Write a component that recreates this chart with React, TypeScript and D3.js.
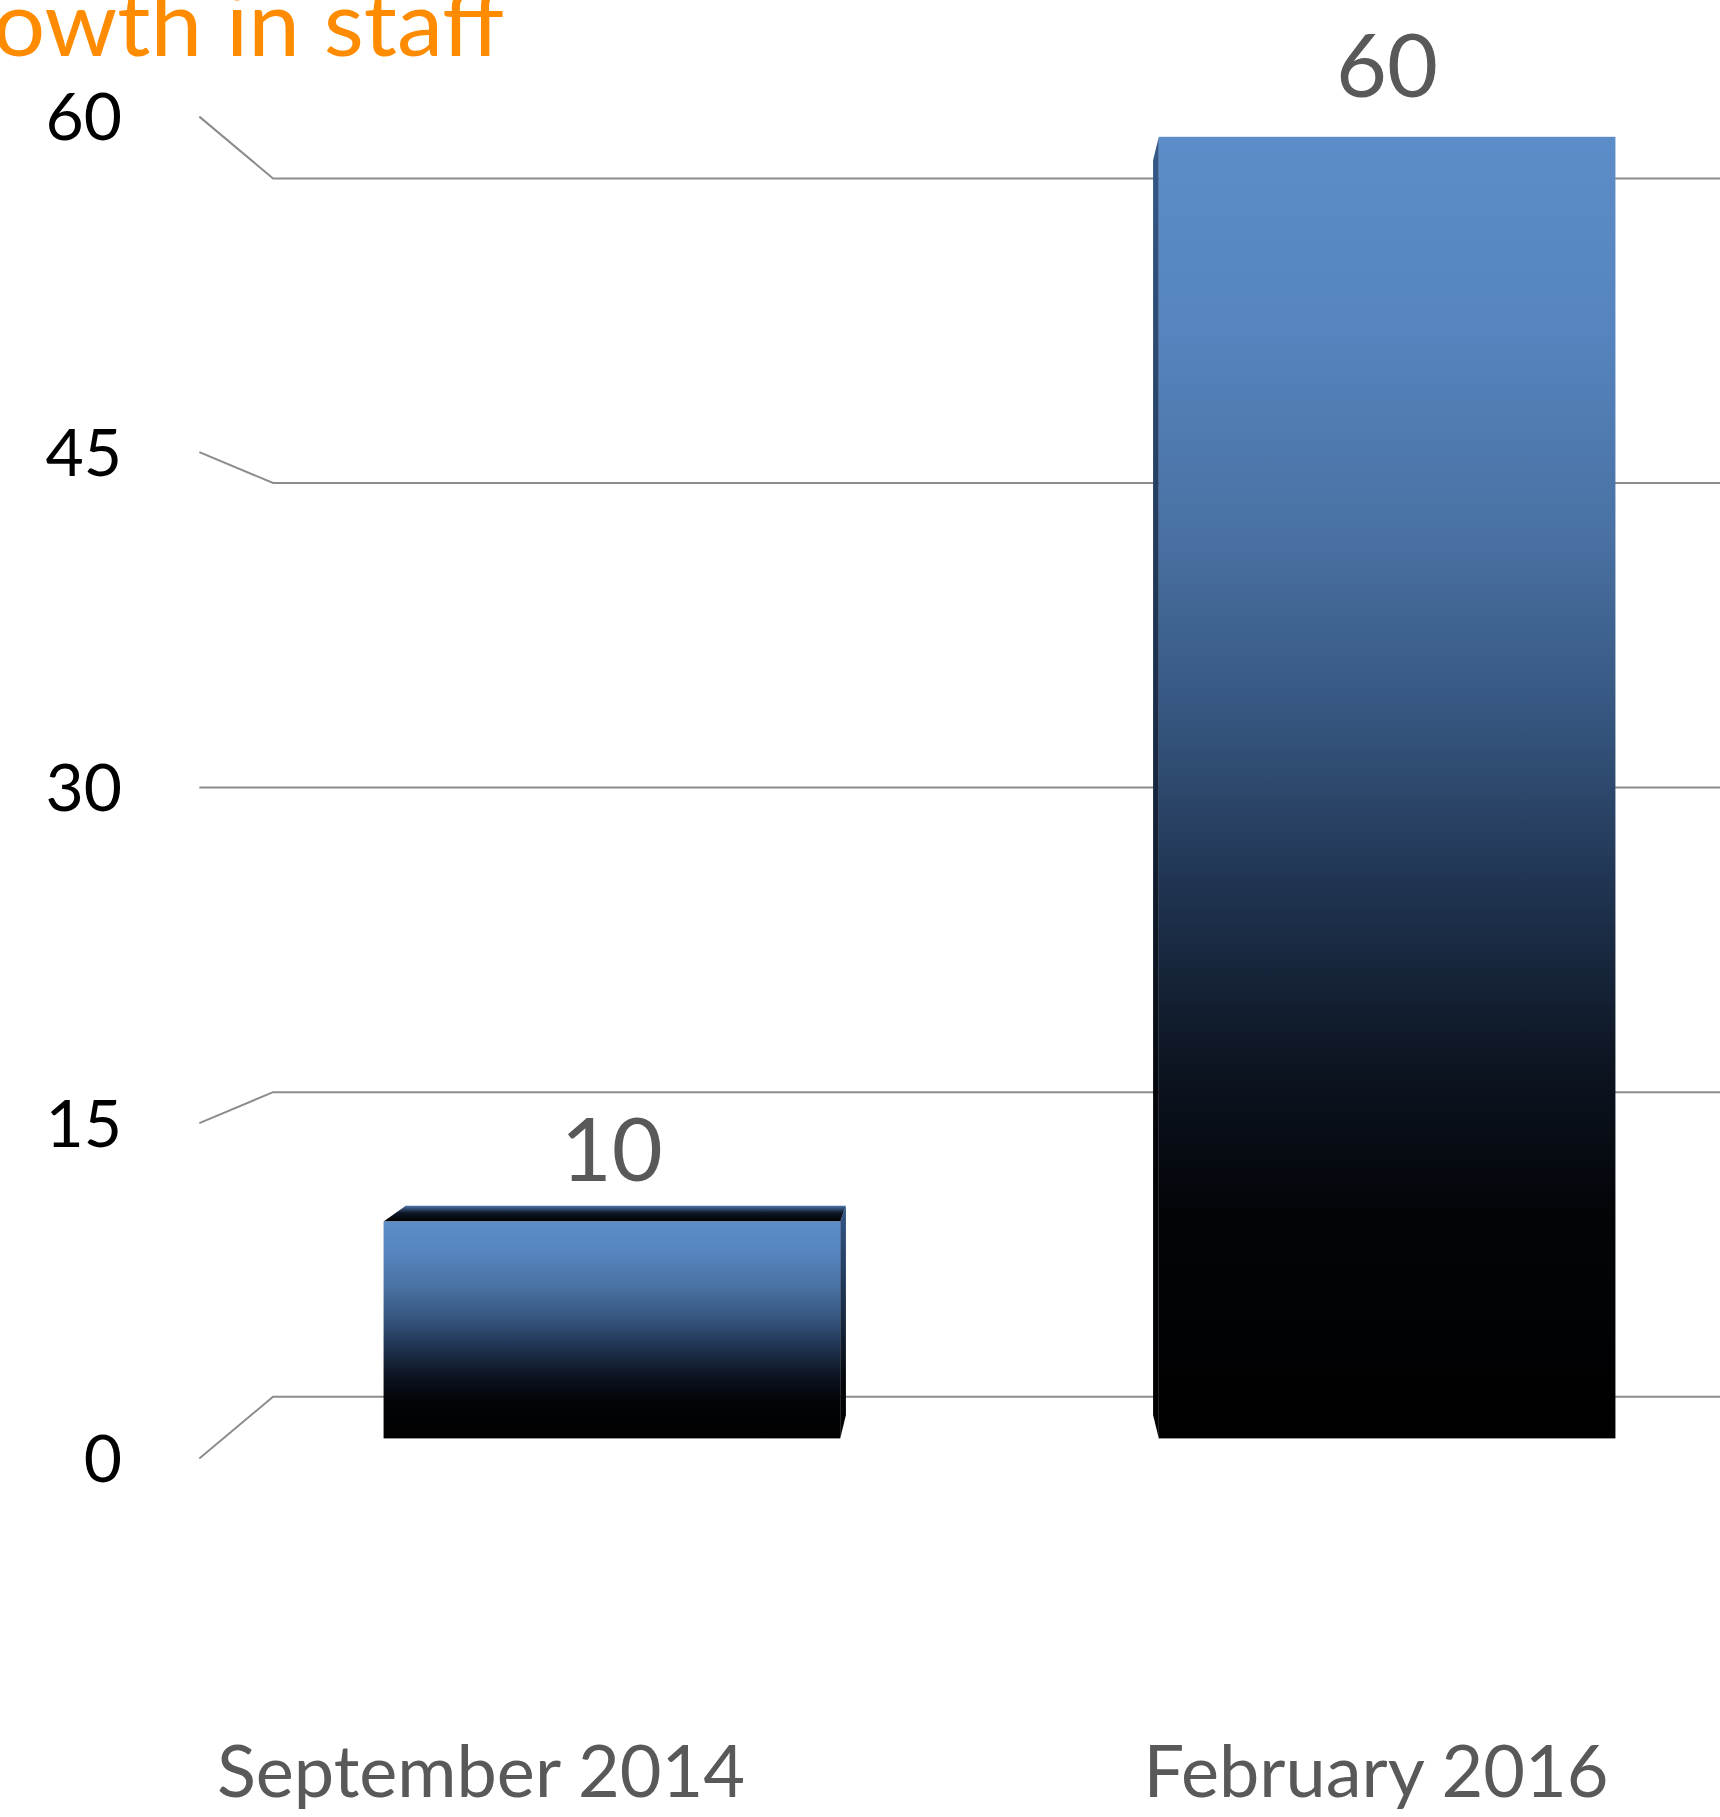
import React from "react";
import * as d3 from "d3";

const categories = ["September 2014", "February 2016"];
const values = [10, 60];
const yTicks = [0, 15, 30, 45, 60];
const title = "Growth in staff";

const W = 1720;
const H = 1817;

export default function App() {
  // front plane of bars
  const y = d3.scaleLinear().domain([0, 60]).range([1438.4, 136.8]);
  const x = d3
    .scaleBand<string>()
    .domain(categories)
    .range([151, 1848])
    .paddingInner(0.411)
    .paddingOuter(0.3);
  const labelX = d3.scalePoint<string>().domain(categories).range([481, 1376]);

  const V = { x: (x(categories[0])! + x.bandwidth() + x(categories[1])!) / 2, y: y(30) };
  const P = (px: number, py: number, k: number): [number, number] => [
    V.x + (px - V.x) * k,
    V.y + (py - V.y) * k,
  ];
  const kBack = 0.964;
  const kWall = 0.936;
  const kFront = 1.031;
  const axisX = 223.4; // axis position in bar-plane coordinates

  const font = "Lato, 'Open Sans', sans-serif";
  const pts = (a: [number, number][]) => a.map((p) => p.join(",")).join(" ");

  return (
    <svg
      width={W}
      height={H}
      style={{ position: "absolute", left: 0, top: 0, display: "block", background: "#fff" }}
    >
      <defs>
        <linearGradient id="front" x1="0" y1="0" x2="0" y2="1">
          <stop offset="0" stopColor="#5d8dc8" />
          <stop offset="0.15" stopColor="#5584be" />
          <stop offset="0.3" stopColor="#4a72a4" />
          <stop offset="0.45" stopColor="#35557e" />
          <stop offset="0.58" stopColor="#1f3350" />
          <stop offset="0.7" stopColor="#0e1725" />
          <stop offset="0.82" stopColor="#030509" />
          <stop offset="1" stopColor="#000" />
        </linearGradient>
        <linearGradient id="side" x1="0" y1="0" x2="0" y2="1">
          <stop offset="0" stopColor="#35598a" />
          <stop offset="0.45" stopColor="#1a2d48" />
          <stop offset="0.75" stopColor="#03060a" />
          <stop offset="1" stopColor="#000" />
        </linearGradient>
        <linearGradient id="top" x1="0" y1="0" x2="0" y2="1">
          <stop offset="0" stopColor="#4a72a6" />
          <stop offset="0.45" stopColor="#0e1828" />
          <stop offset="1" stopColor="#000" />
        </linearGradient>
      </defs>

      {/* gridlines: side wall diagonal + back wall */}
      {yTicks.map((t) => {
        const f = P(axisX, y(t), kFront);
        const w = P(axisX, y(t), kWall);
        return (
          <g key={t}>
            <polyline
              points={pts([f, w, [W, w[1]]])}
              fill="none"
              stroke="#8c8c8c"
              strokeWidth={2}
            />
            <text
              x={122}
              y={f[1]}
              dy="0.36em"
              textAnchor="end"
              fontFamily={font}
              fontSize={66}
              fill="#000"
            >
              {t}
            </text>
          </g>
        );
      })}

      {/* bars */}
      {categories.map((c, i) => {
        const x0 = x(c)!;
        const x1 = x0 + x.bandwidth();
        const yt = y(values[i]);
        const yb = y(0);
        const leftOfEye = x1 < V.x;
        const sx = leftOfEye ? x1 : x0;
        const side: [number, number][] = [
          [sx, yt],
          P(sx, yt, kBack),
          P(sx, yb, kBack),
          [sx, yb],
        ];
        const topFace: [number, number][] | null =
          yt > V.y ? [[x0, yt], [x1, yt], P(x1, yt, kBack), P(x0, yt, kBack)] : null;
        return (
          <g key={c}>
            <polygon points={pts(side)} fill="url(#side)" />
            {topFace && <polygon points={pts(topFace)} fill="url(#top)" />}
            <rect x={x0} y={yt} width={x1 - x0} height={yb - yt} fill="url(#front)" />
            <text
              x={(x0 + x1) / 2}
              y={yt - 40}
              textAnchor="middle"
              fontFamily={font}
              fontSize={88}
              fill="#595959"
            >
              {values[i]}
            </text>
            <text
              x={labelX(c)}
              y={1797}
              textAnchor="middle"
              fontFamily={font}
              fontSize={72}
              fill="#595959"
            >
              {c}
            </text>
          </g>
        );
      })}

      <text
        x={-106}
        y={56}
        fontFamily={font}
        fontSize={92}
        fill="#ff8c00"
        textLength={610}
        lengthAdjust="spacingAndGlyphs"
      >
        {title}
      </text>
    </svg>
  );
}
